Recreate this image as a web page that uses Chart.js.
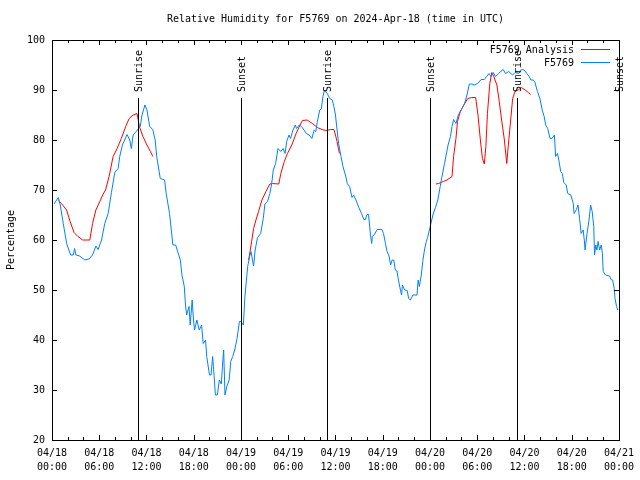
<!DOCTYPE html>
<html>
<head>
<meta charset="utf-8">
<script src="https://cdn.jsdelivr.net/npm/chart.js@4"></script>
<style>
  html, body { margin: 0; padding: 0; background: #fff; }
  canvas { display: block; }
</style>
</head>
<body>
<canvas id="rhChart" width="640" height="480"></canvas>
<script>
// hours since 04/18 00:00 UTC
const obsHours = [0.25, 0.8, 1.05, 1.43, 1.86, 2.36, 2.7, 2.87, 3.04, 3.5, 4.18, 4.72, 5.15, 5.57, 5.86, 6.29, 6.7, 7.13, 7.55, 7.97,
  8.4, 8.6, 8.94, 9.53, 9.87, 10.08, 10.3, 10.7, 11.2, 11.43, 11.8, 12.06, 12.4, 12.8, 13.1, 13.3, 13.75, 14.3, 14.5, 14.93,
  15.35, 15.7, 16.1, 16.3, 16.5, 16.8, 16.95, 17.1, 17.4, 17.55, 17.8, 17.97, 18.1, 18.4, 18.7, 19.0, 19.2, 19.5, 19.65, 20.0,
  20.2, 20.4, 20.5, 20.75, 21.0, 21.25, 21.5, 21.7, 21.8, 21.97, 22.2, 22.5, 22.7, 22.95, 23.2, 23.5, 23.8, 24.0, 24.3, 24.5,
  24.85, 25.1, 25.27, 25.6, 25.8, 26.1, 26.5, 26.83, 27.04, 27.37, 27.67, 27.9, 28.1, 28.4, 28.7, 29.06, 29.35, 29.6, 29.8, 30.1,
  30.3, 30.6, 30.9, 31.05, 31.4, 31.7, 32.0, 32.3, 32.65, 33.0, 33.3, 33.5, 33.7, 34.0, 34.2, 34.4, 34.6, 34.96, 35.26, 35.6,
  35.8, 36.0, 36.2, 36.4, 36.7, 36.95, 37.3, 37.5, 37.8, 38.1, 38.3, 38.6, 38.97, 39.3, 39.6, 39.8, 40.0, 40.2, 40.45, 40.6,
  40.68, 40.9, 41.3, 41.9, 42.1, 42.35, 42.55, 42.8, 43.0, 43.2, 43.4, 43.6, 43.8, 44.0, 44.25, 44.4, 44.5, 44.8, 45.1, 45.3,
  45.5, 45.85, 46.35, 46.5, 46.65, 46.9, 47.1, 47.3, 47.5, 47.7, 48.0, 48.4, 48.7, 49.0, 49.3, 49.5, 49.85, 50.3, 50.6, 50.8,
  51.0, 51.3, 51.6, 51.97, 52.4, 52.7, 53.0, 53.25, 53.7, 54.2, 54.5, 54.9, 55.2, 55.5, 55.75, 56.05, 56.3, 56.7, 57.0, 57.3,
  57.6, 58.0, 58.5, 58.8, 59.3, 59.6, 59.97, 60.3, 60.6, 60.8, 61.1, 61.3, 61.65, 61.96, 62.25, 62.5, 62.7, 62.95, 63.25, 63.5,
  63.8, 63.96, 64.2, 64.4, 64.6, 64.8, 65.0, 65.3, 65.5, 65.9, 66.2, 66.3, 66.6, 66.8, 67.0, 67.2, 67.45, 67.6, 67.7, 67.95,
  68.2, 68.4, 68.6, 68.8, 68.9, 69.05, 69.2, 69.35, 69.55, 69.75, 69.9, 70.0, 70.3, 70.8, 71.0, 71.2, 71.4, 71.5, 71.7, 71.85];
const obsRH = [67.2, 68.5, 67, 63.3, 59.3, 57, 57, 58.3, 57, 56.8, 56, 56.2, 57, 58.8, 58.1, 60, 63.3, 65.3, 69.5, 73.5,
  74.3, 76.7, 79, 81.1, 80, 78.3, 81, 81.7, 82.7, 85, 87, 86, 82.7, 82.1, 80, 76.7, 72.3, 72, 69.3, 65.3,
  59, 59, 57, 56, 53, 50.7, 47, 45, 46.7, 43, 48, 44, 42, 44, 42, 43, 39.3, 40, 36.7, 33,
  33, 36.7, 34.7, 29, 29, 32, 31.2, 36, 38, 29, 30.7, 32, 35.7, 36.7, 38, 40.3, 43.7, 43.7, 43, 48.7,
  54.7, 56.7, 57.7, 54.8, 58, 60.5, 61.3, 64.3, 67.2, 67.7, 69.3, 71.3, 74, 75.3, 78.3, 77.7, 78.3, 77.3, 79.7, 81,
  80.3, 82, 83, 82.3, 83, 82.7, 82, 81.3, 81, 80.3, 82, 81.7, 83.7, 86, 86.2, 88.7, 90, 89.3, 88.3, 88,
  86.7, 85, 82, 79.3, 76.7, 74.7, 72.8, 71.3, 70.7, 68.5, 69, 68, 66.5, 65.3, 64.1, 64.1, 65.1, 65.1, 61, 59.3,
  60.7, 61, 62.1, 62.1, 61.3, 59.3, 57.7, 56.8, 55, 56, 56, 54, 53.8, 52, 50, 49, 51, 50, 49.9, 48.3,
  48, 49, 49, 52, 50.7, 53, 55.9, 58, 59.5, 60.5, 62.5, 65.2, 66.5, 68, 70.7, 72.5, 75.3, 79, 80.7, 82.7,
  84.1, 83.3, 85, 86, 87.3, 89, 91.2, 91.2, 91, 91.5, 92.1, 92.1, 92.7, 93.3, 92.7, 93.5, 92.7, 93.3, 93.7, 94.1,
  93.3, 93.7, 93, 93.5, 93.3, 94.1, 94, 93.3, 92.7, 92, 92, 91.7, 89.7, 88.3, 86, 84.7, 83, 82.3, 80.3, 80.3,
  81, 76.7, 77.3, 75.7, 73.7, 73.3, 71.5, 71, 69.3, 69, 67.3, 65.3, 66.1, 67, 64.3, 61.3, 62, 60, 58, 61.3,
  64, 67, 65.7, 62.7, 57, 59, 58, 59.7, 58, 59, 57.3, 53.7, 53, 52.8, 52.1, 52, 50.3, 48.3, 46.7, 46];

// analysis runs, null splits the three runs
const anaHours = [0.8, 1.2, 1.85, 2.3, 2.8, 3.3, 3.9, 4.8, 5.15, 5.57, 6.07, 6.5, 6.8, 7.25, 7.76, 8.27, 8.8, 9.36, 9.8, 10.3,
  10.8, 11.1, 11.55, 12.06, 12.5, 12.8, 18.0,
  24.97, 25.15, 25.35, 25.6, 25.9, 26.23, 26.66, 27.17, 27.67, 28.0, 28.8, 29.06, 29.5, 29.9, 30.45, 31.0, 31.5, 31.8, 32.4,
  33.07, 33.7, 34.3, 34.8, 35.4, 35.8, 36.0, 36.2, 36.5, 42.0,
  48.75, 49.1, 49.7, 50.15, 50.8, 51.0, 51.3, 51.5, 51.85, 52.3, 52.8, 53.3, 53.8, 54.1, 54.4, 54.66, 54.9, 55.1, 55.3, 55.6,
  55.85, 56.1, 56.5, 56.8, 57.1, 57.45, 57.75, 57.95, 58.25, 58.5, 58.8, 59.2, 59.6, 60.1, 60.5, 60.8];
const anaRH = [67.9, 67.3, 66, 63.7, 61.5, 60.7, 60, 60, 63.3, 66, 67.7, 69.2, 70, 72.7, 76.7, 78.3, 80.3, 82.7, 84.3, 85,
  85.3, 82.7, 80.7, 79, 77.7, 76.7, null,
  56, 57.7, 59.7, 62.3, 64, 65.7, 68, 69.7, 71.2, 71.3, 71.2, 73.3, 75.7, 77.3, 79, 81.3, 83, 83.9, 84,
  83.3, 82.5, 82.1, 81.9, 82.1, 82.1, 81, 79.7, 77.3, null,
  71.2, 71.3, 71.7, 72, 72.7, 76.7, 80.3, 83.7, 85.7, 87, 88.3, 88.5, 88.5, 85, 80, 76.3, 75.2, 78.7, 85.3, 91.3,
  93.5, 92.7, 91, 87.7, 84, 80, 75.3, 79, 84, 88.3, 89.7, 90, 90.5, 90, 89.5, 89.1];

const sunHours = [10.9, 24.0, 34.95, 48.05, 59.0, 72.0];
const sunLabels = ['Sunrise', 'Sunset', 'Sunrise', 'Sunset', 'Sunrise', 'Sunset'];

const xTickDates = ['04/18', '04/18', '04/18', '04/18', '04/19', '04/19', '04/19', '04/19', '04/20', '04/20', '04/20', '04/20', '04/21'];
const xTickTimes = ['00:00', '06:00', '12:00', '18:00', '00:00', '06:00', '12:00', '18:00', '00:00', '06:00', '12:00', '18:00', '00:00'];

const FONT = '10px "DejaVu Sans Mono", "Liberation Mono", monospace';
const BLUE = '#0080ff';
const RED = '#ff0000';

const toPoints = (xs, ys) => xs.map((x, i) => ({ x, y: ys[i] }));

const gnuplotFrame = {
    id: 'gnuplotFrame',
    afterDatasetsDraw(chart) {
        const { ctx, chartArea: a, scales: { x, y } } = chart;
        ctx.save();
        ctx.strokeStyle = '#000';
        ctx.lineWidth = 1;

        // sun lines + rotated labels
        ctx.font = FONT;
        ctx.fillStyle = '#000';
        sunHours.forEach((h, i) => {
            const px = Math.round(x.getPixelForValue(h)) + 0.5;
            ctx.beginPath();
            ctx.moveTo(px, a.top + 58);
            ctx.lineTo(px, a.bottom);
            ctx.stroke();
            ctx.save();
            ctx.translate(px + 1, a.top + 52);
            ctx.rotate(-Math.PI / 2);
            ctx.textAlign = 'left';
            ctx.textBaseline = 'middle';
            ctx.fillText(sunLabels[i], 0, 0);
            ctx.restore();
        });

        // border
        ctx.strokeRect(Math.round(a.left) + 0.5, Math.round(a.top) + 0.5,
            Math.round(a.right - a.left), Math.round(a.bottom - a.top));

        // inward ticks on all sides
        ctx.beginPath();
        for (let h = x.min; h <= x.max; h += 2) {
            const px = Math.round(x.getPixelForValue(h)) + 0.5;
            const len = h % 6 === 0 ? 5 : 3;
            ctx.moveTo(px, a.bottom); ctx.lineTo(px, a.bottom - len);
            ctx.moveTo(px, a.top); ctx.lineTo(px, a.top + len);
        }
        y.ticks.forEach(t => {
            const py = Math.round(y.getPixelForValue(t.value)) + 0.5;
            ctx.moveTo(a.left, py); ctx.lineTo(a.left + 5, py);
            ctx.moveTo(a.right, py); ctx.lineTo(a.right - 5, py);
        });
        ctx.stroke();

        // legend
        ctx.textAlign = 'right';
        ctx.textBaseline = 'middle';
        [['F5769 Analysis', RED, 50], ['F5769', BLUE, 63]].forEach(([label, color, ly]) => {
            ctx.fillStyle = '#000';
            ctx.fillText(label, 574, ly);
            ctx.strokeStyle = color;
            ctx.beginPath();
            ctx.moveTo(581, ly - 0.5);
            ctx.lineTo(610, ly - 0.5);
            ctx.stroke();
        });

        // title and y label
        ctx.fillStyle = '#000';
        ctx.textAlign = 'center';
        ctx.fillText('Relative Humidity for F5769 on 2024-Apr-18 (time in UTC)', (a.left + a.right) / 2, 19);
        ctx.translate(11, 240);
        ctx.rotate(-Math.PI / 2);
        ctx.fillText('Percentage', 0, 0);
        ctx.restore();
    }
};

new Chart(document.getElementById('rhChart'), {
    type: 'line',
    data: {
        datasets: [
            {
                label: 'F5769',
                data: toPoints(obsHours, obsRH),
                borderColor: BLUE,
                borderWidth: 1,
                pointRadius: 0,
                tension: 0
            },
            {
                label: 'F5769 Analysis',
                data: toPoints(anaHours, anaRH),
                borderColor: RED,
                borderWidth: 1,
                pointRadius: 0,
                tension: 0,
                spanGaps: false
            }
        ]
    },
    options: {
        responsive: false,
        animation: false,
        devicePixelRatio: 1,
        layout: { padding: { top: 40, right: 19, left: 0, bottom: 0 } },
        plugins: { legend: { display: false }, tooltip: { enabled: false }, title: { display: false } },
        scales: {
            x: {
                type: 'linear',
                min: 0,
                max: 72,
                afterFit: s => { s.height = 40; },
                grid: { display: false, drawTicks: false, tickLength: 0 },
                border: { display: false },
                ticks: {
                    stepSize: 6,
                    autoSkip: false,
                    maxRotation: 0,
                    padding: 6,
                    color: '#000',
                    font: { family: '"DejaVu Sans Mono", "Liberation Mono", monospace', size: 10, lineHeight: 1.4 },
                    callback: (v, i) => [xTickDates[i], xTickTimes[i]]
                }
            },
            y: {
                min: 20,
                max: 100,
                afterFit: s => { s.width = 52; },
                grid: { display: false, drawTicks: false, tickLength: 0 },
                border: { display: false },
                ticks: {
                    stepSize: 10,
                    padding: 7,
                    color: '#000',
                    font: { family: '"DejaVu Sans Mono", "Liberation Mono", monospace', size: 10 }
                }
            }
        }
    },
    plugins: [gnuplotFrame]
});
</script>
</body>
</html>
